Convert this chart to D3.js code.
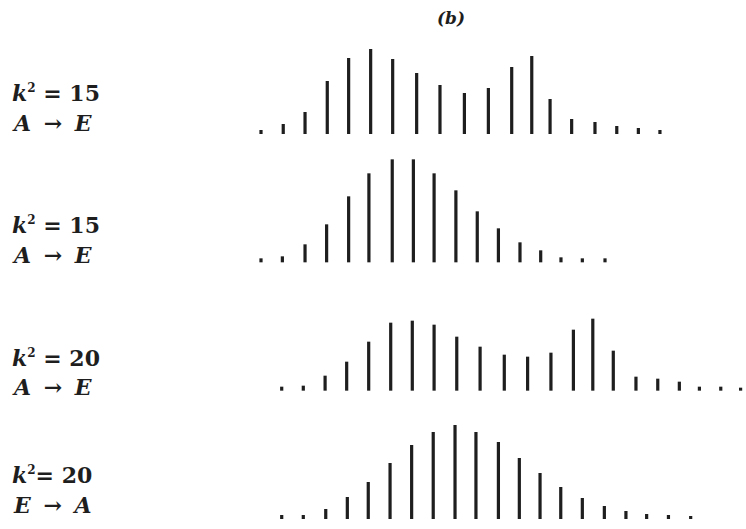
<!DOCTYPE html>
<html><head><meta charset="utf-8">
<script src="https://cdn.jsdelivr.net/npm/d3@7"></script>
<style>body{margin:0;background:#fff}</style>
</head><body>
<svg id="chart" width="746" height="529"></svg>
<script>
// Data: level positions (in level units) and relative line intensities
const title = "(b)";
const couplings = [15, 15, 20, 20];
const transitions = [["A","E"], ["A","E"], ["A","E"], ["E","A"]];

const pos1 = [0,1.02,2.02,3.04,4.02,5.03,6.04,7.14,8.21,9.33,10.43,11.5,12.42,13.26,14.25,15.32,16.32,17.31,18.3];
const int1 = [4,10,22,53,76,85,75,61,49,41,46,67,78,35,15,12,8,6,4];

const pos2 = [0,0.98,2.02,3.01,4.02,4.95,6.02,6.99,7.94,8.94,9.92,10.89,11.88,12.83,13.76,14.74,15.78];
const int2 = [4,6,18,38,66,89,103,103,89,72,51,34,20,12,5,4,4];

const pos3 = [0.95,1.94,2.94,3.93,4.94,5.95,6.94,7.94,8.98,10.05,11.16,12.23,13.3,14.33,15.22,16.16,17.2,18.2,19.19,20.11,21.09,22.0];
const int3 = [4,5,15,29,49,68,70,66,54,44,36,34,38,61,72,40,14,12,9,4,4,3];

const pos4 = [0.95,1.94,2.97,3.96,4.92,5.92,6.91,7.9,8.9,9.86,10.89,11.85,12.8,13.75,14.74,15.75,16.74,17.69,18.69,19.71];
const int4 = [4,4,10,22,37,56,74,87,94,87,77,61,46,32,21,13,8,5,4,3];

const rows = [
  {pos: pos1, val: int1},
  {pos: pos2, val: int2},
  {pos: pos3, val: int3},
  {pos: pos4, val: int4}
];

const svg = d3.select("#chart");
const ink = "#1e1e1e";
const serif = "DejaVu Serif, Liberation Serif, serif";

const x = d3.scaleLinear().domain([0, 22]).range([261, 740.6]);
const rowY = d3.scalePoint().domain(d3.range(rows.length)).range([134, 519]);
const h = d3.scaleLinear().domain([0, 100]).range([0, 100]);

rows.forEach((r, i) => {
  const base = rowY(i);
  const g = svg.append("g");
  g.selectAll("rect").data(r.pos.map((p, j) => ({p, v: r.val[j]})))
    .join("rect")
    .attr("x", d => x(d.p) - 1.6)
    .attr("width", 3.2)
    .attr("y", d => base - h(d.v))
    .attr("height", d => h(d.v))
    .attr("fill", ink);
});

svg.append("text")
  .attr("x", 451).attr("y", 24)
  .attr("text-anchor", "middle")
  .attr("font-family", serif)
  .attr("font-weight", "bold").attr("font-style", "italic")
  .attr("font-size", 17).attr("fill", ink)
  .text(title);

const labelY = [[101, 131], [233, 263], [366, 395], [483, 513]];
couplings.forEach((k, i) => {
  const t1 = svg.append("text").attr("x", 12).attr("y", labelY[i][0])
    .attr("font-family", serif).attr("font-weight", "bold")
    .attr("font-size", 22).attr("fill", ink);
  t1.append("tspan").attr("font-style", "italic").text("k");
  t1.append("tspan").attr("font-size", 12).attr("dy", -9).text("2");
  t1.append("tspan").attr("dy", 9).text(i === 3 ? "= " + k : " = " + k);

  const t2 = svg.append("text").attr("x", 14).attr("y", labelY[i][1])
    .attr("font-family", serif).attr("font-weight", "bold")
    .attr("font-size", 22).attr("fill", ink);
  t2.append("tspan").attr("font-style", "italic").text(transitions[i][0]);
  t2.append("tspan").attr("dx", 5).text(" \u2192 ");
  t2.append("tspan").attr("dx", 5).attr("font-style", "italic").text(transitions[i][1]);
});
</script>
</body></html>
